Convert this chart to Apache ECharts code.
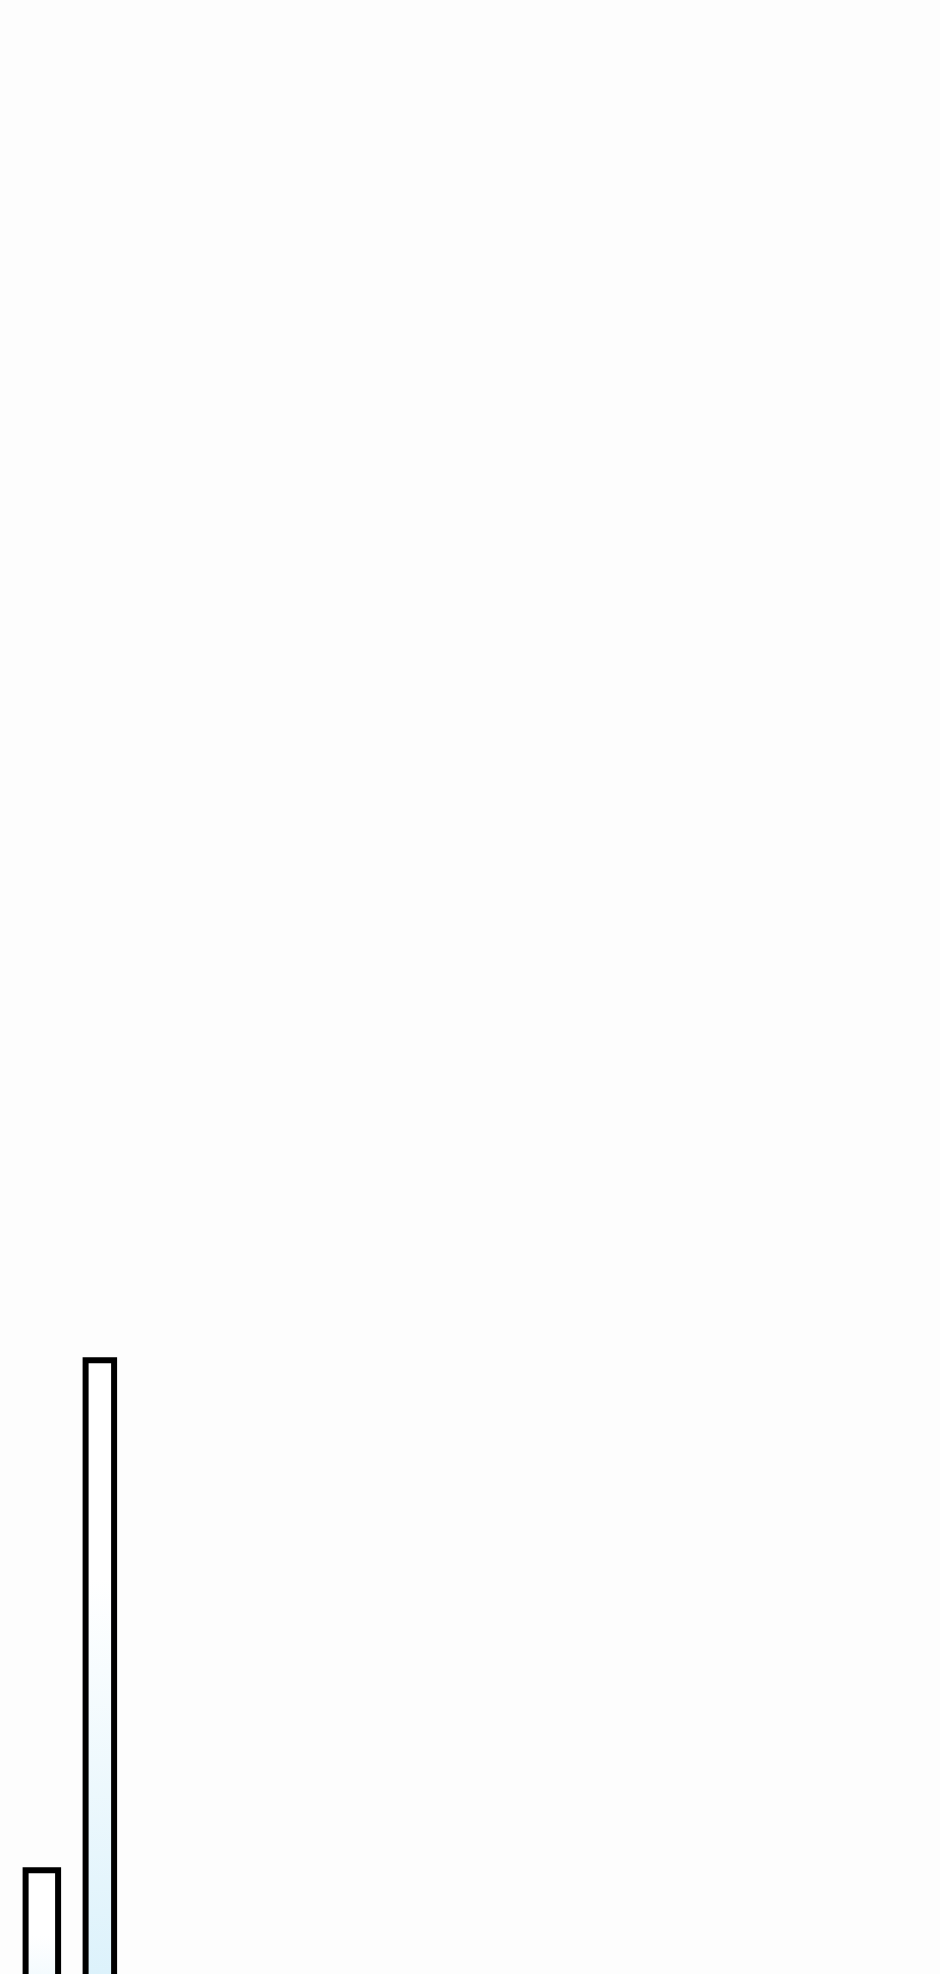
<!DOCTYPE html>
<html>
<head>
<meta charset="utf-8">
<script src="https://cdn.jsdelivr.net/npm/echarts@6/dist/echarts.min.js"></script>
<style>
  html, body { margin: 0; padding: 0; background: #fdfdfd; }
  #chart { width: 940px; height: 1974px; }
</style>
</head>
<body>
<div id="chart"></div>
<script>
// categories and values (the zero line sits below the visible page)
var categories = ['1', '2'];
var lowValues = [25, null];
var highValues = [null, 81];

var myChart = echarts.init(document.getElementById('chart'));

// white at the top of the bar, pale blue toward the base
function barFill() {
    return new echarts.graphic.LinearGradient(0, 0, 0, 1, [
        {offset: 0, color: '#ffffff'},
        {offset: 0.3, color: '#ffffff'},
        {offset: 1, color: '#d2eefa'}
    ]);
}

var option = {
    backgroundColor: '#fdfdfd',
    animation: false,
    grid: {
        left: 9.85,
        width: 120,
        top: 0,
        bottom: -121,   // base of the bars is off the page
        outerBoundsMode: 'none',
        containLabel: false
    },
    xAxis: {
        type: 'category',
        data: categories,
        show: false
    },
    yAxis: {
        type: 'value',
        min: 0,
        max: 230,
        show: false
    },
    series: [
        {
            type: 'bar',
            data: lowValues,
            barWidth: 38.5,
            barGap: '-100%',
            itemStyle: {
                color: barFill(),
                borderColor: '#000000',
                borderWidth: 6
            }
        },
        {
            type: 'bar',
            data: highValues,
            barWidth: 34.5,
            itemStyle: {
                color: barFill(),
                borderColor: '#000000',
                borderWidth: 6
            }
        }
    ]
};
myChart.setOption(option);
window.addEventListener('resize', function () {
    myChart.resize();
});
</script>
</body>
</html>
